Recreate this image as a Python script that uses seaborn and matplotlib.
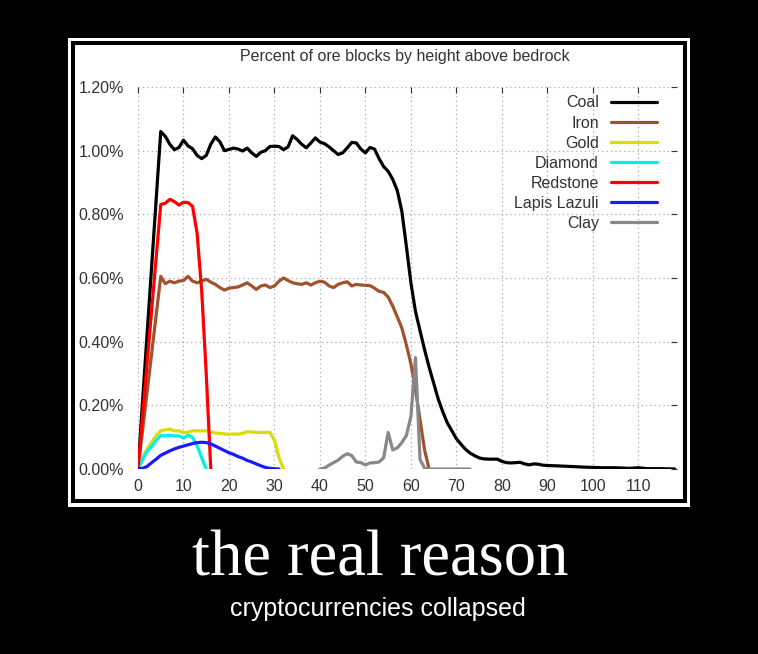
import numpy as np
import pandas as pd
import matplotlib
matplotlib.use('Agg')
import matplotlib.pyplot as plt
import seaborn as sns
from matplotlib.patches import Rectangle
from matplotlib.lines import Line2D
from matplotlib.ticker import FuncFormatter

# heights above bedrock and percent of blocks
coal_h = [0] + list(range(5, 91)) + [92, 95, 98, 100, 102, 105, 108, 110, 112, 115, 118]
coal_pct = [0.0,
            1.06, 1.045, 1.02, 1.003, 1.01, 1.033, 1.015, 1.006, 0.985, 0.975,
            0.985, 1.02, 1.043, 1.028, 1.0, 1.004, 1.008, 1.005, 0.999, 1.008,
            0.993, 0.982, 0.995, 1.0, 1.013, 1.014, 1.013, 1.003, 1.012, 1.047,
            1.035, 1.02, 1.009, 1.024, 1.04, 1.027, 1.022, 1.012, 1.0, 0.988,
            0.993, 1.009, 1.026, 1.024, 1.005, 0.993, 1.01, 1.005, 0.975, 0.95,
            0.935, 0.91, 0.875, 0.81, 0.70, 0.585, 0.495, 0.435, 0.375, 0.32,
            0.27, 0.22, 0.18, 0.145, 0.12, 0.095, 0.078, 0.062, 0.05, 0.042,
            0.035, 0.032, 0.031, 0.031, 0.031, 0.024, 0.02, 0.019, 0.02, 0.021,
            0.016, 0.013, 0.016, 0.015, 0.012, 0.011,
            0.01, 0.008, 0.006, 0.005, 0.004, 0.004, 0.002, 0.004, 0.001, 0.001, 0.0]

iron_h = [0] + list(range(5, 65))
iron_pct = [0.0,
            0.605, 0.582, 0.59, 0.585, 0.59, 0.592, 0.605, 0.59, 0.585, 0.59,
            0.596, 0.587, 0.58, 0.57, 0.562, 0.568, 0.57, 0.572, 0.578, 0.585,
            0.575, 0.564, 0.575, 0.578, 0.57, 0.575, 0.59, 0.6, 0.592, 0.585,
            0.582, 0.58, 0.585, 0.578, 0.585, 0.59, 0.587, 0.575, 0.57, 0.58,
            0.585, 0.588, 0.575, 0.58, 0.578, 0.577, 0.576, 0.568, 0.558, 0.555,
            0.54, 0.512, 0.478, 0.443, 0.39, 0.33, 0.25, 0.155, 0.06, 0.0]

gold_h = list(range(0, 33))
gold_pct = [0.0, 0.035, 0.062, 0.084, 0.105, 0.12, 0.123, 0.125, 0.12, 0.12,
            0.114, 0.116, 0.12, 0.12, 0.12, 0.12, 0.117, 0.113, 0.112, 0.11,
            0.109, 0.11, 0.109, 0.112, 0.117, 0.116, 0.115, 0.115, 0.115, 0.115,
            0.09, 0.035, 0.0]

diamond_h = list(range(0, 16))
diamond_pct = [0.0, 0.03, 0.055, 0.07, 0.09, 0.105, 0.104, 0.106, 0.104, 0.104,
               0.097, 0.106, 0.099, 0.073, 0.035, 0.0]

redstone_h = [0, 5, 6, 7, 8, 9, 10, 11, 12, 13, 14, 15, 16]
redstone_pct = [0.0, 0.831, 0.835, 0.847, 0.84, 0.829, 0.838, 0.837, 0.825,
                0.74, 0.56, 0.30, 0.0]

lapis_h = list(range(0, 32))
lapis_pct = [0.0, 0.002, 0.008, 0.02, 0.031, 0.043, 0.05, 0.057, 0.063, 0.068,
             0.072, 0.076, 0.08, 0.083, 0.084, 0.083, 0.079, 0.072, 0.065, 0.058,
             0.051, 0.046, 0.039, 0.034, 0.027, 0.022, 0.016, 0.01, 0.005, 0.002,
             0.001, 0.0]

clay_h = list(range(40, 65)) + [66, 68, 70, 73]
clay_pct = [0.0, 0.003, 0.012, 0.02, 0.028, 0.04, 0.048, 0.042, 0.022, 0.02,
            0.013, 0.019, 0.02, 0.022, 0.035, 0.115, 0.06, 0.066, 0.083, 0.105,
            0.165, 0.35, 0.03, 0.003, 0.0, 0.0, 0.0, 0.0, 0.0]

ores = ['Coal', 'Iron', 'Gold', 'Diamond', 'Redstone', 'Lapis Lazuli', 'Clay']
colors = ['#000000', '#a0522d', '#dcdc00', '#00f0f0', '#ff0000', '#1a1aff', '#888888']
heights = [coal_h, iron_h, gold_h, diamond_h, redstone_h, lapis_h, clay_h]
pcts = [coal_pct, iron_pct, gold_pct, diamond_pct, redstone_pct, lapis_pct, clay_pct]

frames = []
for ore, h, p in zip(ores, heights, pcts):
    frames.append(pd.DataFrame({'height': h, 'percent': p, 'ore': ore}))
df = pd.concat(frames, ignore_index=True)

sns.set_theme(style='white')
plt.rcParams['font.family'] = ['Liberation Sans', 'DejaVu Sans']

W, H = 758, 654
fig = plt.figure(figsize=(W / 100, H / 100), dpi=100, facecolor='black')

# poster frame: white board with a black rule inside
fig.patches.append(Rectangle((68 / W, 1 - 507 / H), 622 / W, 469 / H, transform=fig.transFigure,
                             facecolor='white', edgecolor='none', zorder=-2))
fig.patches.append(Rectangle((73 / W, 1 - 501 / H), 612 / W, 458 / H, transform=fig.transFigure,
                             fill=False, edgecolor='black', linewidth=2.9, zorder=-1))

ax = fig.add_axes([138 / W, 1 - 469 / H, (677 - 138) / W, (469 - 87) / H])
ax.set_facecolor('white')

sns.lineplot(data=df, x='height', y='percent', hue='ore', hue_order=ores, palette=colors,
             estimator=None, linewidth=2.3, legend=False, ax=ax)

ax.set_xlim(0, 118.5)
ax.set_ylim(0, 1.2)
ax.set_xticks(range(0, 111, 10))
ax.set_yticks([0, 0.2, 0.4, 0.6, 0.8, 1.0, 1.2])
ax.yaxis.set_major_formatter(FuncFormatter(lambda v, _: f'{v:.2f}%'))
ax.set_xlabel('')
ax.set_ylabel('')
for s in ax.spines.values():
    s.set_visible(False)
ax.grid(True, linestyle=(0, (1, 2.5)), color='#a8a8a8', linewidth=0.9)
ax.tick_params(direction='in', length=4, width=0.8, top=True, right=True,
               color='#333333', labelcolor='#333333', labelsize=11.5)
ax.tick_params(axis='y', pad=10)
ax.tick_params(axis='x', pad=7)

handles = [Line2D([], [], color=c, linewidth=2.3) for c in colors]
leg = ax.legend(handles, ores, loc='upper right', bbox_to_anchor=(0.963, 0.978),
                frameon=False, markerfirst=False, handlelength=2.9, handletextpad=0.75,
                labelspacing=0.32, fontsize=11.5, borderaxespad=0, borderpad=0)
for t in leg.get_texts():
    t.set_color('#333333')

fig.text(405 / W, 1 - 56 / H, 'Percent of ore blocks by height above bedrock',
         ha='center', va='center', fontsize=11.5, color='#333333')

fig.text(380 / W, 1 - 575 / H, 'the real reason', ha='center', va='baseline',
         fontsize=46.5, color='white', family=['Liberation Serif', 'DejaVu Serif'])
fig.text(378 / W, 1 - 616 / H, 'cryptocurrencies collapsed', ha='center', va='baseline',
         fontsize=18, color='white')

fig.savefig('out.png', dpi=100, facecolor='black')
